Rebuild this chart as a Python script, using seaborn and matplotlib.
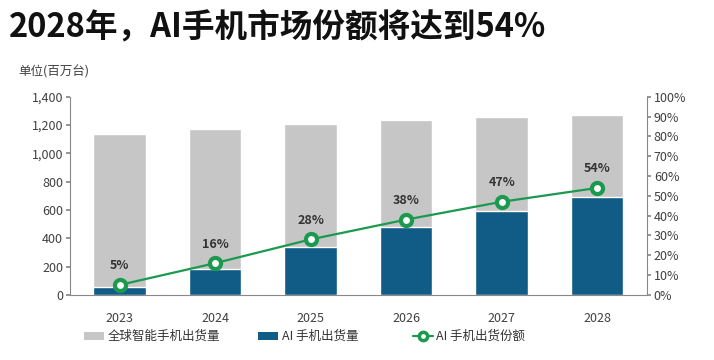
import matplotlib
matplotlib.use("Agg")
import matplotlib.pyplot as plt
from matplotlib.patches import Patch
from matplotlib.lines import Line2D
import numpy as np
import pandas as pd
import seaborn as sns

# ── data ──────────────────────────────────────────────────────────────────────
years = ["2023", "2024", "2025", "2026", "2027", "2028"]
total_shipments = [1135, 1175, 1210, 1237, 1258, 1273]   # 百万台
ai_shipments = [57, 186, 339, 478, 594, 690]
ai_share = [5, 16, 28, 38, 47, 54]                          # %
share_labels = [f"{v}%" for v in ai_share]

GRAY = "#c6c6c6"
BLUE = "#115c86"
GREEN = "#1b9a4f"
TICK = "#404040"

sns.set_theme(style="white")
plt.rcParams["font.family"] = ["Noto Sans CJK SC", "DejaVu Sans"]

df = pd.DataFrame({"year": years, "total": total_shipments,
                   "ai": ai_shipments, "share": ai_share})

fig = plt.figure(figsize=(7.14, 3.6), dpi=100)
ax = fig.add_axes([0.098, 0.181, 0.808, 0.550])

sns.barplot(data=df, x="year", y="total", color=GRAY, width=0.55,
            saturation=1, ax=ax)
sns.barplot(data=df, x="year", y="ai", color=BLUE, width=0.55,
            saturation=1, ax=ax)

ax.set_ylim(0, 1400)
ax.set_yticks(range(0, 1401, 200))
ax.set_yticklabels([f"{v:,}" for v in range(0, 1401, 200)])
ax.set_xlabel("")
ax.set_ylabel("")
for s in ["top", "right"]:
    ax.spines[s].set_visible(False)
for s in ["left", "bottom"]:
    ax.spines[s].set_color("#888888")
    ax.spines[s].set_linewidth(0.8)
ax.tick_params(axis="y", left=True, length=3, color="#888888",
               labelsize=9, labelcolor=TICK, pad=2)
ax.tick_params(axis="x", bottom=False, labelsize=9, labelcolor=TICK, pad=6)

# share line on the right axis
ax2 = ax.twinx()
sns.pointplot(data=df, x="year", y="share", color=GREEN, markers="o",
              markersize=8, linewidth=1.6, ax=ax2)
for line in ax2.lines:
    line.set_markerfacecolor("white")
    line.set_markeredgecolor(GREEN)
    line.set_markeredgewidth(3)
ax2.set_ylim(0, 100)
ax2.set_yticks(range(0, 101, 10))
ax2.set_yticklabels([f"{v}%" for v in range(0, 101, 10)])
ax2.set_ylabel("")
ax2.set_xlabel("")
for s in ["top", "left", "bottom"]:
    ax2.spines[s].set_visible(False)
ax2.spines["right"].set_color("#888888")
ax2.spines["right"].set_linewidth(0.8)
ax2.tick_params(axis="y", right=True, length=3, color="#888888",
                labelsize=9, labelcolor=TICK, pad=2)
for i, lab in enumerate(share_labels):
    ax2.annotate(lab, (i, ai_share[i]), xytext=(0, 9),
                 textcoords="offset points", ha="center", va="bottom",
                 fontsize=9, fontweight="bold", color="#333333")

ax.set_xlim(-0.52, len(years) - 0.48)
ax2.set_xlim(-0.52, len(years) - 0.48)

# title and unit
fig.text(0.012, 0.922, "2028年，AI手机市场份额将达到54%", fontsize=23.5,
         fontweight="bold", color="#111111", ha="left", va="center")
fig.text(0.025, 0.80, "单位(百万台)", fontsize=9, color=TICK,
         ha="left", va="center")

# legend: three entries placed along the bottom
entries = [
    (Patch(facecolor=GRAY, edgecolor="none"), "全球智能手机出货量", 0.118),
    (Patch(facecolor=BLUE, edgecolor="none"), "AI 手机出货量", 0.362),
    (Line2D([0], [0], color=GREEN, lw=1.6, marker="o", markersize=6,
            markerfacecolor="white", markeredgecolor=GREEN,
            markeredgewidth=2.5), "AI 手机出货份额", 0.578),
]
for handle, label, xpos in entries:
    fig.legend([handle], [label], loc="center left",
               bbox_to_anchor=(xpos, 0.065), frameon=False, fontsize=9,
               handlelength=1.6, handleheight=0.6, handletextpad=0.3,
               borderaxespad=0, borderpad=0, labelcolor="#333333")

fig.savefig("out.png", dpi=100)
